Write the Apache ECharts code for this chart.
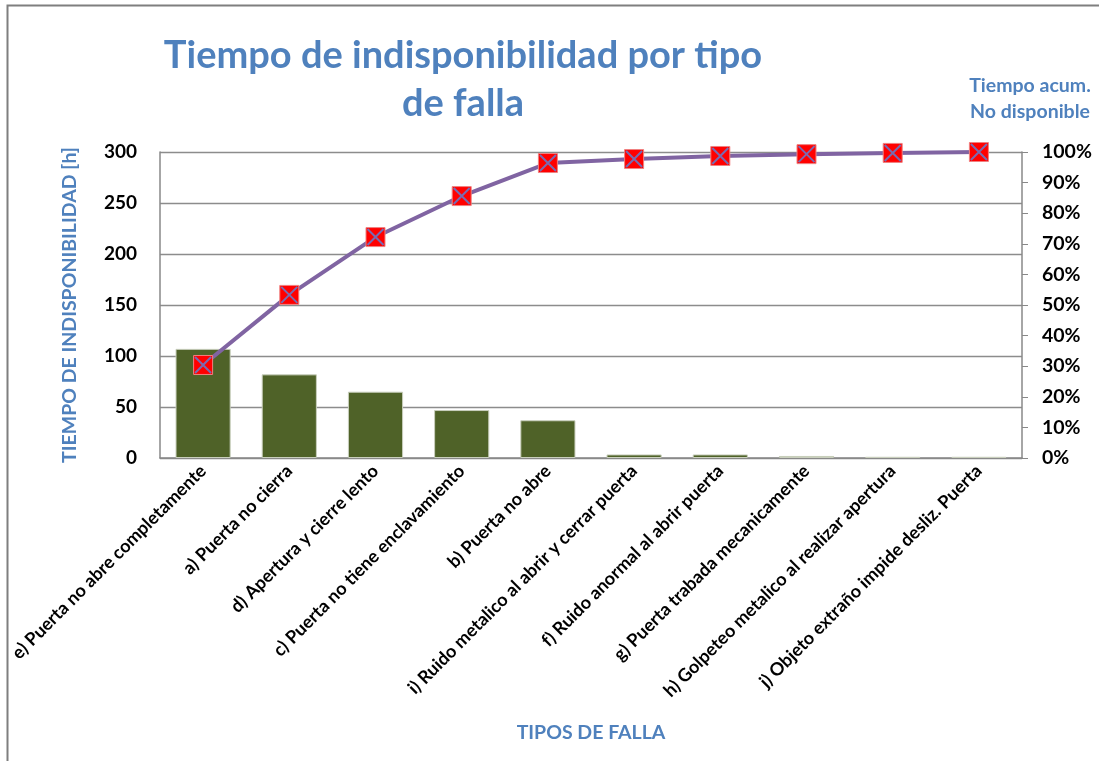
<!DOCTYPE html>
<html>
<head>
<meta charset="utf-8">
<script src="https://cdn.jsdelivr.net/npm/echarts@6/dist/echarts.min.js"></script>
<style>
  html, body { margin: 0; padding: 0; background: #fff; }
  #main { width: 1099px; height: 761px; }
</style>
</head>
<body>
<div id="main"></div>
<script>
// categorias (tipos de falla)
const categories = [
  'e) Puerta no abre completamente',
  'a) Puerta no cierra',
  'd) Apertura y cierre lento',
  'c) Puerta no tiene enclavamiento',
  'b) Puerta no abre',
  'i) Ruido metalico al abrir y cerrar puerta',
  'f) Ruido anormal al abrir puerta',
  'g) Puerta trabada mecanicamente',
  'h) Golpeteo metalico al realizar apertura',
  'j) Objeto extraño impide desliz. Puerta'
];
// horas no disponibles
const horas = [107, 82, 65, 47, 37, 3.5, 3.5, 2, 1.2, 1.2];
// % acumulado
const acumulado = [30.4, 53.3, 72.2, 85.6, 96.4, 97.7, 98.7, 99.3, 99.7, 100];
const leftTicks = [0, 50, 100, 150, 200, 250, 300];

const FONT = 'Lato, "Open Sans", sans-serif';
const BLUE = '#4F81BD';

const chart = echarts.init(document.getElementById('main'));

const option = {
  backgroundColor: '#fff',
  animation: false,
  grid: { left: 160, right: 77, top: 152, bottom: 303, containLabel: false },
  graphic: [
    {
      type: 'rect',
      shape: { x: 7.5, y: 5.5, width: 1200, height: 900 },
      style: { fill: 'none', stroke: '#7f7f7f', lineWidth: 2 },
      silent: true
    },
    {
      type: 'text', x: 463, y: 32,
      style: {
        text: 'Tiempo de indisponibilidad por tipo\nde falla',
        fill: BLUE, font: 'bold 38px ' + FONT, align: 'center', lineHeight: 48
      }
    },
    {
      type: 'text', x: 1030, y: 73,
      style: {
        text: 'Tiempo acum.\nNo disponible',
        fill: BLUE, font: 'bold 19.5px ' + FONT, align: 'center', lineHeight: 26
      }
    }
  ],
  xAxis: {
    type: 'category',
    data: categories,
    name: 'TIPOS DE FALLA',
    nameLocation: 'middle',
    nameGap: 265,
    nameTextStyle: { color: BLUE, fontWeight: 'bold', fontSize: 19.5, fontFamily: FONT },
    axisLine: { lineStyle: { color: '#888', width: 1.5 } },
    axisTick: { show: false },
    axisLabel: {
      interval: 0, rotate: 45, color: '#000', fontSize: 18, fontWeight: 'bold',
      fontFamily: FONT, margin: 10
    }
  },
  yAxis: [
    {
      type: 'value', min: leftTicks[0], max: leftTicks[leftTicks.length - 1], interval: 50,
      name: 'TIEMPO DE INDISPONIBILIDAD [h]',
      nameLocation: 'middle',
      nameGap: 80,
      nameTextStyle: { color: BLUE, fontWeight: 'bold', fontSize: 19.5, fontFamily: FONT },
      axisLine: { show: true, lineStyle: { color: '#888', width: 1.5 } },
      axisTick: { show: false },
      axisLabel: { color: '#000', fontSize: 19, fontWeight: 'bold', fontFamily: FONT, margin: 23 },
      splitLine: { lineStyle: { color: '#8c8c8c', width: 1.3 } }
    },
    {
      type: 'value', min: 0, max: 100, interval: 10, position: 'right',
      axisLine: { show: true, lineStyle: { color: '#888', width: 1.5 } },
      axisTick: { show: true, inside: false, length: 6, lineStyle: { color: '#888' } },
      axisLabel: { color: '#000', fontSize: 19.5, fontWeight: 'bold', fontFamily: FONT, margin: 20, formatter: '{value}%' },
      splitLine: { show: false }
    }
  ],
  series: [
    {
      name: 'Tiempo',
      type: 'bar',
      data: horas,
      barWidth: '64%',
      itemStyle: { color: '#4F6228', borderColor: '#c9cfbd', borderWidth: 1 }
    },
    {
      name: 'Acumulado',
      type: 'line',
      yAxisIndex: 1,
      data: acumulado,
      symbol: 'rect',
      symbolSize: 19,
      lineStyle: { color: '#8064A2', width: 4 },
      itemStyle: { color: '#FF0000', borderColor: '#f08080', borderWidth: 1 },
      z: 3
    },
    {
      name: 'Marca',
      type: 'line',
      yAxisIndex: 1,
      data: acumulado,
      symbol: 'path://M0,0L10,10M10,0L0,10',
      symbolSize: 16,
      lineStyle: { width: 0, opacity: 0 },
      itemStyle: { color: 'none', borderColor: '#7a6ab0', borderWidth: 2 },
      z: 4
    }
  ]
};

chart.setOption(option);
window.onresize = function () { chart.resize(); };
</script>
</body>
</html>
